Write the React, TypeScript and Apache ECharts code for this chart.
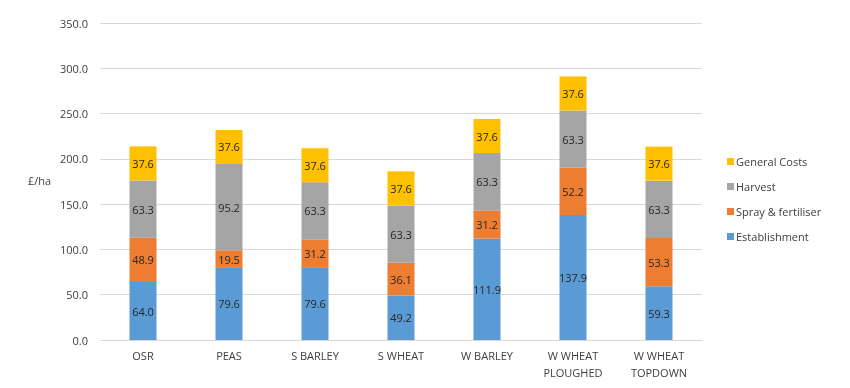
import React, { useEffect, useRef } from "react";
import * as echarts from "echarts";

const categories = ["OSR", "PEAS", "S BARLEY", "S WHEAT", "W BARLEY", "W WHEAT\nPLOUGHED", "W WHEAT\nTOPDOWN"];
const establishment = [64.0, 79.6, 79.6, 49.2, 111.9, 137.9, 59.3];
const spray = [48.9, 19.5, 31.2, 36.1, 31.2, 52.2, 53.3];
const harvest = [63.3, 95.2, 63.3, 63.3, 63.3, 63.3, 63.3];
const general = [37.6, 37.6, 37.6, 37.6, 37.6, 37.6, 37.6];
const seriesNames = ["Establishment", "Spray & fertiliser", "Harvest", "General Costs"];
const colors = ["#5B9BD5", "#ED7D31", "#A5A5A5", "#FFC000"];

const FONT = "'Open Sans', 'Noto Sans', sans-serif";

export default function App() {
  const ref = useRef<HTMLDivElement>(null);
  useEffect(() => {
    if (!ref.current) return;
    const chart = echarts.init(ref.current, null, { renderer: "svg" });
    const data = [establishment, spray, harvest, general];
    chart.setOption({
      animation: false,
      textStyle: { fontFamily: FONT },
      grid: { left: 100, right: 148, top: 23, bottom: 48, containLabel: false },
      legend: {
        orient: "vertical",
        left: 722,
        top: 151,
        itemWidth: 7,
        itemHeight: 7,
        itemGap: 14,
        icon: "rect",
        data: ["General Costs", "Harvest", "Spray & fertiliser", "Establishment"],
        textStyle: { color: "#404040", fontSize: 11, fontFamily: FONT, padding: [0, 0, 0, -3] },
      },
      graphic: [
        {
          type: "text",
          left: 28,
          top: 175,
          style: { text: "£/ha", fill: "#404040", font: `11px ${FONT}` },
        },
      ],
      xAxis: {
        type: "category",
        data: categories,
        axisLine: { lineStyle: { color: "#D9D9D9" } },
        axisTick: { show: false },
        axisLabel: { color: "#404040", fontSize: 11, margin: 7, lineHeight: 17, fontFamily: FONT },
      },
      yAxis: {
        type: "value",
        min: 0,
        max: 350,
        interval: 50,
        axisLine: { show: false },
        axisTick: { show: false },
        splitLine: { lineStyle: { color: "#D9D9D9" } },
        axisLabel: {
          color: "#404040",
          fontSize: 11,
          margin: 12,
          fontFamily: FONT,
          formatter: (v: number) => v.toFixed(1),
        },
      },
      series: seriesNames.map((name, i) => ({
        name,
        type: "bar",
        stack: "total",
        barWidth: 27,
        data: data[i],
        itemStyle: { color: colors[i] },
        label: {
          show: true,
          position: "inside",
          color: "#262626",
          fontSize: 11,
          fontFamily: FONT,
          formatter: (p: any) => Number(p.value).toFixed(1),
        },
      })),
    });
    return () => chart.dispose();
  }, []);
  return <div ref={ref} style={{ position: "fixed", left: 0, top: 0, width: 850, height: 388 }} />;
}
